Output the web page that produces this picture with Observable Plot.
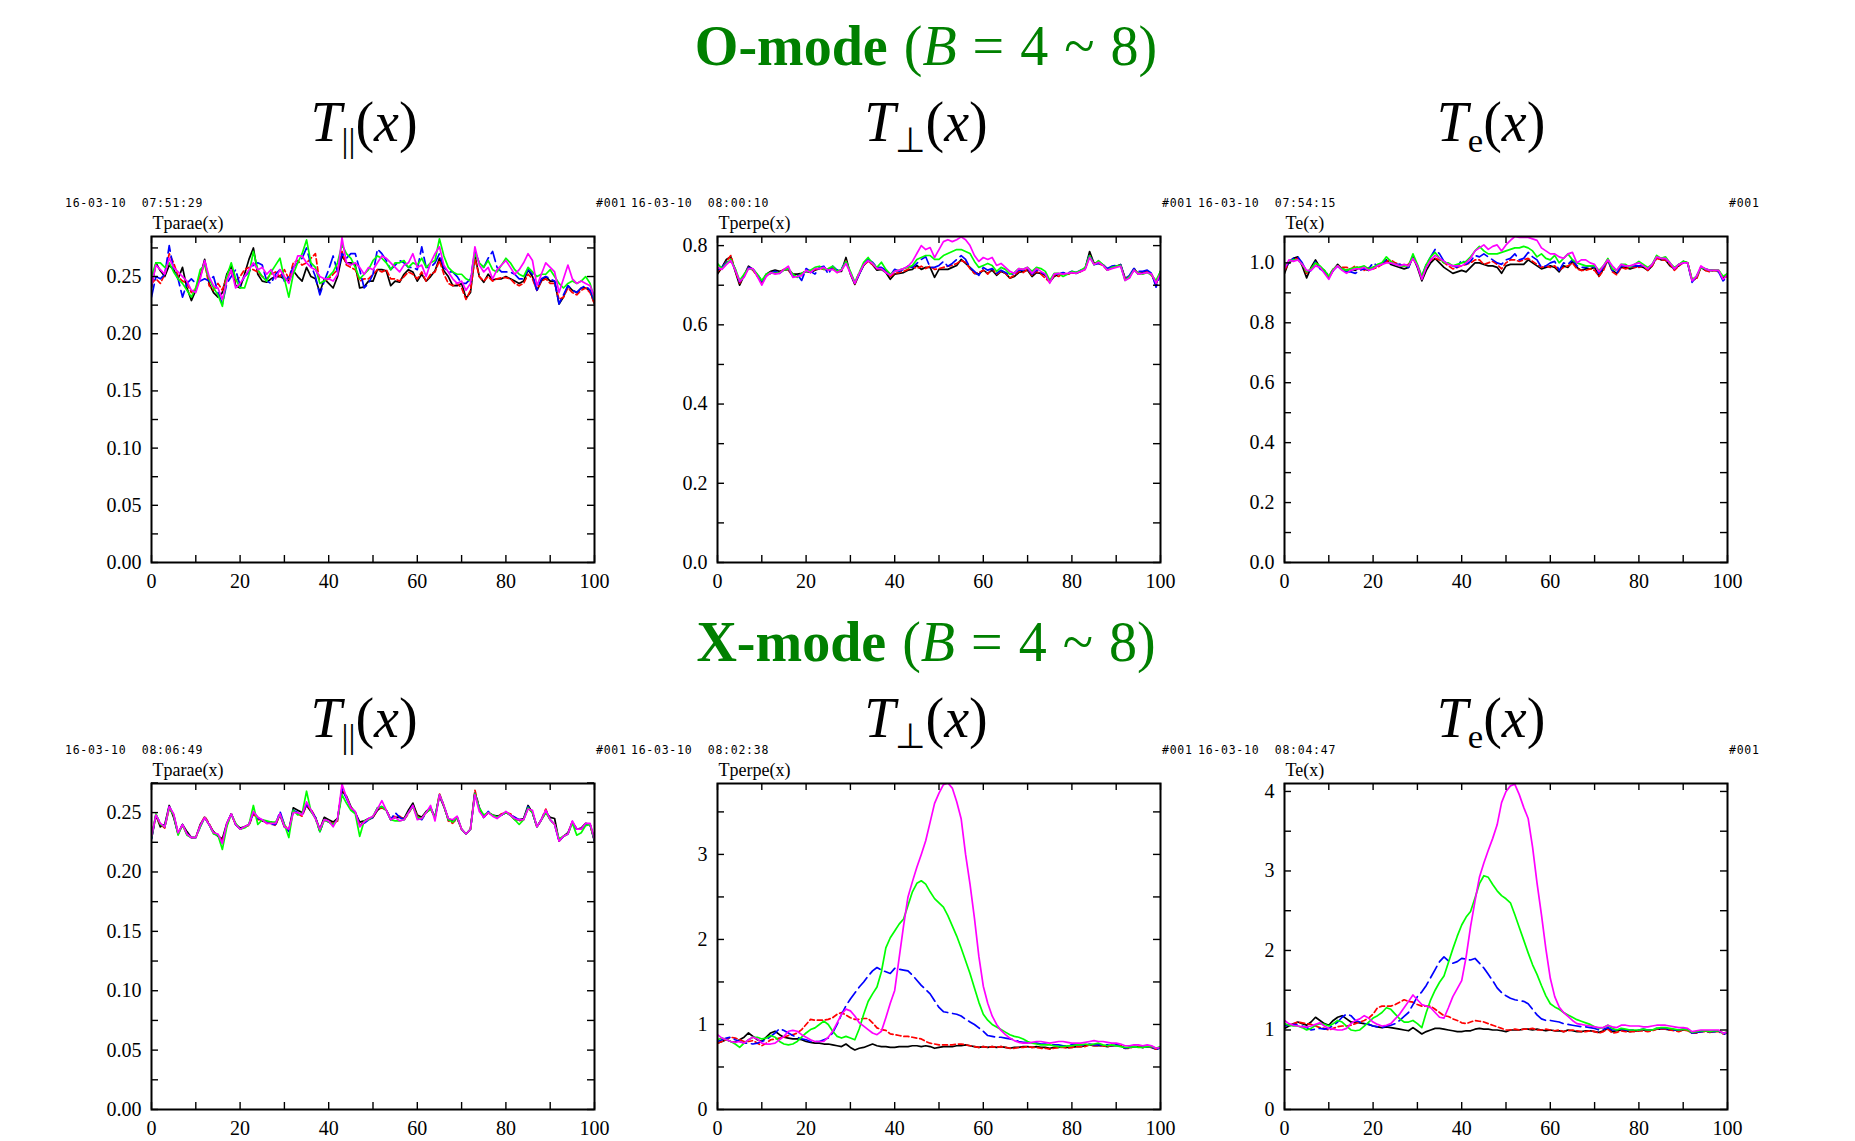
<!DOCTYPE html>
<html>
<head>
<meta charset="utf-8">
<script src="https://cdn.jsdelivr.net/npm/d3@7"></script>
<script src="https://cdn.jsdelivr.net/npm/@observablehq/plot@0.6"></script>
<style>
  html, body { margin: 0; padding: 0; background: #fff; }
  #page { position: relative; width: 1855px; height: 1141px; overflow: hidden;
          font-family: "Liberation Serif", "Times New Roman", serif; }
  .mode { position: absolute; left: 0; width: 1852px; text-align: center; color: #008000;
          font-size: 56px; line-height: 1; white-space: nowrap; word-spacing: 2px; }
  .sub { position: absolute; width: 300px; text-align: center; font-size: 56px;
         line-height: 1; color: #000; white-space: nowrap; }
  .sub .s { font-size: 0.62em; position: relative; top: 0.32em; }
  .stamp { position: absolute; font-family: "DejaVu Sans Mono", monospace; font-size: 11.5px;
           letter-spacing: 0.75px; line-height: 1; white-space: pre; color: #000; }
  .panel { position: absolute; }
</style>
</head>
<body>
<div id="page"></div>
<script>
// ---- x axis ticks (shared by all panels) ----
const xTickLabels = [0, 20, 40, 60, 80, 100];
const xTickMarks = [0, 10, 20, 30, 40, 50, 60, 70, 80, 90, 100];

// ---- line styles: one per run ----
const lineColors = ["#000000", "#ff0000", "#0000ff", "#00ff00", "#ff00ff"];
const lineDashes = [null, "5,3", "13,5", null, null];

// ---- O-mode, Tparae(x) ----
const oParBlack = [
  0.240,0.262,0.255,0.250,0.260,0.256,0.248,0.258,0.240,0.229,
  0.238,0.250,0.265,0.244,0.236,0.232,0.236,0.252,0.259,0.242,
  0.240,0.252,0.265,0.275,0.252,0.246,0.245,0.248,0.250,0.250,
  0.248,0.246,0.255,0.250,0.246,0.258,0.250,0.248,0.236,0.248,
  0.244,0.240,0.250,0.268,0.262,0.262,0.260,0.240,0.241,0.246,
  0.246,0.256,0.256,0.255,0.242,0.246,0.245,0.252,0.256,0.254,
  0.246,0.252,0.246,0.250,0.255,0.266,0.255,0.250,0.242,0.242,
  0.244,0.231,0.236,0.268,0.250,0.245,0.252,0.247,0.248,0.248,
  0.250,0.248,0.246,0.244,0.246,0.256,0.250,0.238,0.246,0.250,
  0.246,0.246,0.226,0.232,0.242,0.238,0.236,0.240,0.240,0.238,
  0.226];
const oParRed = [
  0.244,0.248,0.244,0.252,0.270,0.262,0.250,0.246,0.244,0.236,
  0.240,0.250,0.262,0.242,0.238,0.244,0.238,0.250,0.254,0.246,
  0.250,0.256,0.258,0.256,0.254,0.250,0.248,0.252,0.254,0.250,
  0.256,0.248,0.262,0.264,0.260,0.262,0.266,0.270,0.244,0.246,
  0.248,0.252,0.256,0.272,0.260,0.258,0.256,0.246,0.248,0.248,
  0.252,0.256,0.254,0.256,0.248,0.248,0.246,0.250,0.254,0.252,
  0.248,0.254,0.246,0.252,0.254,0.264,0.252,0.244,0.242,0.244,
  0.240,0.230,0.238,0.266,0.250,0.246,0.250,0.246,0.248,0.249,
  0.249,0.248,0.244,0.242,0.244,0.252,0.248,0.238,0.246,0.248,
  0.244,0.244,0.230,0.232,0.240,0.236,0.234,0.238,0.240,0.236,
  0.226];
const oParBlue = [
  0.232,0.250,0.248,0.252,0.277,0.256,0.248,0.232,0.244,0.248,
  0.244,0.246,0.248,0.246,0.250,0.236,0.226,0.244,0.250,0.256,
  0.242,0.250,0.254,0.260,0.262,0.260,0.246,0.244,0.252,0.256,
  0.246,0.250,0.258,0.262,0.266,0.275,0.260,0.250,0.234,0.246,
  0.256,0.268,0.254,0.270,0.266,0.270,0.270,0.256,0.240,0.244,
  0.252,0.274,0.270,0.264,0.256,0.260,0.264,0.262,0.258,0.258,
  0.256,0.276,0.258,0.258,0.262,0.270,0.258,0.254,0.254,0.250,
  0.244,0.244,0.248,0.272,0.262,0.258,0.266,0.272,0.258,0.254,
  0.254,0.254,0.252,0.248,0.248,0.256,0.252,0.238,0.248,0.250,
  0.248,0.246,0.226,0.234,0.242,0.238,0.236,0.240,0.242,0.238,
  0.228];
const oParGreen = [
  0.250,0.262,0.262,0.258,0.262,0.254,0.248,0.244,0.238,0.232,
  0.240,0.256,0.260,0.248,0.240,0.234,0.224,0.250,0.262,0.248,
  0.240,0.240,0.252,0.272,0.256,0.250,0.246,0.254,0.260,0.266,
  0.248,0.232,0.252,0.262,0.270,0.282,0.262,0.258,0.244,0.246,
  0.250,0.254,0.262,0.278,0.270,0.266,0.258,0.248,0.252,0.256,
  0.264,0.268,0.266,0.262,0.256,0.262,0.262,0.264,0.258,0.262,
  0.260,0.266,0.258,0.262,0.264,0.283,0.268,0.258,0.254,0.252,
  0.252,0.248,0.246,0.270,0.262,0.258,0.264,0.256,0.254,0.260,
  0.266,0.262,0.256,0.252,0.250,0.258,0.254,0.250,0.252,0.252,
  0.256,0.250,0.244,0.240,0.244,0.246,0.244,0.246,0.250,0.244,
  0.230];
const oParMagenta = [
  0.242,0.260,0.256,0.252,0.266,0.258,0.254,0.250,0.246,0.238,
  0.236,0.248,0.264,0.250,0.242,0.240,0.230,0.246,0.256,0.240,
  0.244,0.250,0.256,0.262,0.256,0.258,0.252,0.256,0.248,0.256,
  0.250,0.244,0.256,0.268,0.268,0.262,0.258,0.256,0.250,0.248,
  0.248,0.246,0.252,0.284,0.262,0.260,0.262,0.258,0.252,0.258,
  0.256,0.262,0.268,0.266,0.262,0.258,0.254,0.260,0.262,0.270,
  0.258,0.260,0.250,0.262,0.270,0.276,0.260,0.254,0.248,0.244,
  0.246,0.238,0.244,0.276,0.260,0.254,0.258,0.248,0.256,0.260,
  0.264,0.258,0.252,0.256,0.262,0.270,0.264,0.242,0.252,0.262,
  0.258,0.254,0.236,0.248,0.260,0.248,0.244,0.246,0.244,0.242,
  0.232];

// ---- O-mode, Tperpe(x) ----
const oPerpBlack = [
  0.728,0.745,0.765,0.772,0.735,0.700,0.725,0.748,0.740,0.725,
  0.708,0.728,0.735,0.738,0.735,0.738,0.740,0.728,0.728,0.730,
  0.735,0.732,0.738,0.742,0.745,0.738,0.742,0.735,0.735,0.770,
  0.728,0.702,0.728,0.750,0.762,0.752,0.738,0.740,0.732,0.715,
  0.728,0.730,0.732,0.738,0.740,0.750,0.740,0.745,0.745,0.720,
  0.740,0.740,0.740,0.745,0.750,0.765,0.755,0.745,0.730,0.728,
  0.738,0.730,0.738,0.725,0.735,0.730,0.718,0.722,0.732,0.735,
  0.738,0.722,0.732,0.730,0.725,0.708,0.722,0.728,0.730,0.728,
  0.732,0.730,0.735,0.742,0.785,0.755,0.758,0.752,0.740,0.745,
  0.748,0.752,0.718,0.720,0.742,0.728,0.732,0.735,0.728,0.702,
  0.735];
const oPerpRed = [
  0.735,0.742,0.760,0.775,0.738,0.705,0.722,0.745,0.738,0.722,
  0.708,0.725,0.730,0.732,0.732,0.740,0.738,0.722,0.722,0.725,
  0.738,0.735,0.740,0.742,0.740,0.740,0.745,0.732,0.738,0.762,
  0.730,0.704,0.732,0.752,0.760,0.752,0.742,0.742,0.735,0.722,
  0.730,0.732,0.735,0.740,0.748,0.742,0.748,0.742,0.748,0.740,
  0.742,0.745,0.748,0.750,0.755,0.762,0.758,0.742,0.730,0.732,
  0.738,0.728,0.742,0.728,0.735,0.730,0.718,0.725,0.735,0.732,
  0.740,0.725,0.735,0.728,0.718,0.708,0.725,0.722,0.730,0.728,
  0.730,0.732,0.735,0.740,0.775,0.755,0.755,0.750,0.738,0.745,
  0.748,0.750,0.718,0.722,0.738,0.730,0.730,0.735,0.725,0.705,
  0.732];
const oPerpBlue = [
  0.738,0.745,0.758,0.765,0.740,0.708,0.722,0.745,0.740,0.728,
  0.710,0.725,0.730,0.735,0.730,0.738,0.742,0.722,0.728,0.712,
  0.742,0.735,0.728,0.745,0.748,0.728,0.748,0.738,0.742,0.760,
  0.732,0.705,0.728,0.752,0.765,0.758,0.745,0.745,0.738,0.725,
  0.740,0.735,0.740,0.748,0.745,0.755,0.765,0.772,0.745,0.745,
  0.750,0.760,0.748,0.755,0.765,0.775,0.765,0.745,0.735,0.725,
  0.745,0.738,0.742,0.730,0.738,0.732,0.725,0.730,0.738,0.738,
  0.742,0.728,0.738,0.732,0.728,0.710,0.728,0.728,0.732,0.730,
  0.735,0.732,0.738,0.742,0.778,0.752,0.755,0.752,0.742,0.748,
  0.750,0.752,0.715,0.725,0.742,0.735,0.735,0.738,0.730,0.695,
  0.728];
const oPerpGreen = [
  0.755,0.742,0.755,0.765,0.742,0.712,0.728,0.742,0.740,0.728,
  0.712,0.728,0.732,0.730,0.732,0.738,0.742,0.728,0.720,0.730,
  0.735,0.738,0.745,0.748,0.740,0.742,0.748,0.735,0.740,0.760,
  0.735,0.708,0.732,0.758,0.770,0.755,0.745,0.758,0.740,0.728,
  0.735,0.738,0.742,0.745,0.750,0.765,0.770,0.775,0.775,0.765,
  0.765,0.775,0.780,0.785,0.790,0.790,0.785,0.780,0.760,0.745,
  0.750,0.755,0.750,0.735,0.745,0.740,0.728,0.732,0.742,0.740,
  0.745,0.735,0.745,0.742,0.735,0.712,0.730,0.730,0.722,0.728,
  0.735,0.732,0.738,0.745,0.775,0.752,0.762,0.752,0.738,0.745,
  0.748,0.750,0.712,0.722,0.738,0.730,0.728,0.732,0.725,0.712,
  0.735];
const oPerpMagenta = [
  0.745,0.740,0.752,0.762,0.738,0.710,0.720,0.742,0.742,0.722,
  0.700,0.722,0.732,0.728,0.730,0.740,0.748,0.720,0.722,0.725,
  0.738,0.732,0.742,0.742,0.745,0.738,0.740,0.732,0.738,0.755,
  0.730,0.705,0.730,0.752,0.762,0.755,0.742,0.742,0.732,0.725,
  0.735,0.738,0.742,0.748,0.760,0.780,0.800,0.790,0.795,0.770,
  0.790,0.810,0.815,0.810,0.815,0.822,0.815,0.800,0.775,0.760,
  0.770,0.765,0.770,0.750,0.755,0.745,0.735,0.730,0.742,0.740,
  0.745,0.730,0.742,0.735,0.728,0.705,0.728,0.730,0.728,0.730,
  0.732,0.730,0.735,0.740,0.770,0.752,0.758,0.750,0.738,0.742,
  0.745,0.748,0.712,0.718,0.738,0.728,0.730,0.732,0.728,0.705,
  0.730];

// ---- O-mode, Te(x) ----
const oTeBlack = [
  0.965,1.005,1.015,1.020,0.990,0.950,0.985,1.010,0.985,0.975,
  0.950,0.975,0.995,0.980,0.975,0.980,0.975,0.985,0.980,0.975,
  0.985,0.990,0.995,1.010,0.995,0.990,0.985,0.980,0.985,1.020,
  0.985,0.940,0.975,1.000,1.015,1.000,0.985,0.975,0.965,0.970,
  0.975,0.970,0.985,1.000,1.000,0.995,0.990,0.990,0.985,0.965,
  0.990,0.995,0.995,0.995,0.995,1.010,1.000,0.990,0.980,0.985,
  0.990,0.985,0.970,0.990,0.985,1.005,0.985,0.975,0.980,0.980,
  0.985,0.955,0.980,1.010,0.975,0.965,0.985,0.985,0.980,0.985,
  0.990,0.985,0.975,0.990,1.020,1.010,1.010,0.990,0.980,0.990,
  1.005,1.000,0.940,0.950,0.985,0.975,0.975,0.975,0.975,0.950,
  0.960];
const oTeRed = [
  0.975,1.000,1.010,1.015,0.995,0.965,0.980,1.000,0.985,0.970,
  0.955,0.980,0.990,0.985,0.985,0.980,0.990,0.980,0.975,0.985,
  0.980,0.985,0.995,1.005,1.010,1.000,0.995,0.990,0.995,1.015,
  0.990,0.950,0.990,1.010,1.015,1.010,1.000,0.990,0.980,0.985,
  0.990,0.995,1.000,1.010,1.010,0.995,1.000,1.005,0.995,0.980,
  1.000,1.010,1.010,1.005,1.010,1.015,1.005,0.995,0.985,0.990,
  0.985,0.990,0.975,0.985,0.990,1.000,0.980,0.975,0.975,0.980,
  0.975,0.955,0.975,1.010,0.970,0.960,0.985,0.980,0.985,0.985,
  0.985,0.990,0.975,0.990,1.015,1.010,1.010,0.995,0.975,0.990,
  1.000,1.000,0.945,0.945,0.985,0.975,0.970,0.975,0.970,0.950,
  0.955];
const oTeBlue = [
  0.985,1.000,1.015,1.020,1.000,0.970,0.975,1.005,0.980,0.970,
  0.960,0.975,0.990,0.975,0.970,0.970,0.965,0.975,0.980,0.980,
  1.000,0.990,1.000,1.010,1.000,0.995,0.995,0.990,0.985,1.025,
  0.990,0.955,0.995,1.020,1.045,1.030,1.005,0.995,0.990,0.985,
  1.010,0.995,1.005,1.025,1.020,1.030,1.020,1.010,1.000,0.995,
  1.010,1.015,1.030,1.010,1.015,1.035,1.020,1.010,0.985,0.990,
  1.000,1.005,0.975,1.000,0.995,1.010,0.990,0.985,0.985,0.990,
  0.985,0.965,0.985,1.010,0.975,0.965,0.990,0.990,0.985,0.990,
  0.990,0.990,0.980,0.995,1.020,1.015,1.015,1.000,0.980,0.995,
  1.000,1.000,0.935,0.955,0.985,0.980,0.975,0.975,0.970,0.940,
  0.955];
const oTeGreen = [
  0.990,1.005,1.010,1.010,0.995,0.970,0.980,1.000,0.990,0.975,
  0.955,0.980,0.990,0.980,0.975,0.980,0.985,0.985,0.990,0.980,
  0.985,0.995,1.000,1.020,1.005,0.995,0.990,0.990,0.990,1.030,
  0.995,0.955,0.995,1.020,1.035,1.015,1.000,1.000,0.990,0.995,
  1.000,1.005,1.020,1.040,1.055,1.040,1.030,1.030,1.030,1.035,
  1.040,1.045,1.050,1.050,1.055,1.050,1.040,1.020,1.030,1.015,
  1.010,1.025,1.000,1.015,1.030,1.010,1.000,0.995,0.990,0.990,
  0.990,0.975,0.990,1.015,0.980,0.975,0.995,0.995,0.985,0.995,
  1.005,0.995,0.985,0.995,1.025,1.015,1.020,1.000,0.985,0.995,
  1.005,1.000,0.945,0.955,0.985,0.980,0.975,0.975,0.975,0.955,
  0.965];
const oTeMagenta = [
  0.980,1.010,1.005,1.010,0.995,0.975,0.975,0.990,0.985,0.965,
  0.945,0.975,0.990,0.975,0.965,0.975,0.980,0.980,0.985,0.975,
  0.980,0.990,0.995,1.000,1.000,0.995,0.990,0.995,0.990,1.015,
  0.990,0.945,0.985,1.010,1.025,1.015,1.005,0.995,0.990,0.990,
  0.990,1.000,1.015,1.040,1.050,1.060,1.045,1.055,1.060,1.040,
  1.060,1.075,1.088,1.085,1.085,1.085,1.080,1.075,1.050,1.040,
  1.030,1.030,1.020,1.015,1.030,1.035,1.000,1.010,1.010,1.000,
  0.995,0.970,0.990,1.010,0.990,0.975,0.995,0.990,0.990,0.995,
  1.000,0.990,0.980,0.995,1.020,1.015,1.015,1.000,0.980,0.995,
  1.000,1.000,0.940,0.955,0.990,0.980,0.975,0.975,0.975,0.945,
  0.960];

// ---- X-mode, Tparae(x) ----
const xParBlack = [
  0.228,0.248,0.238,0.240,0.256,0.246,0.232,0.240,0.234,0.229,
  0.229,0.240,0.246,0.240,0.234,0.230,0.228,0.241,0.249,0.240,
  0.237,0.238,0.240,0.250,0.246,0.243,0.242,0.242,0.240,0.248,
  0.238,0.235,0.254,0.252,0.250,0.256,0.251,0.246,0.236,0.246,
  0.244,0.242,0.245,0.268,0.264,0.255,0.250,0.242,0.243,0.245,
  0.246,0.252,0.255,0.252,0.244,0.246,0.246,0.245,0.252,0.258,
  0.248,0.246,0.251,0.254,0.246,0.264,0.255,0.245,0.243,0.246,
  0.236,0.232,0.236,0.266,0.254,0.246,0.250,0.248,0.247,0.248,
  0.250,0.248,0.244,0.244,0.245,0.256,0.250,0.238,0.244,0.250,
  0.246,0.245,0.226,0.230,0.233,0.242,0.236,0.237,0.241,0.240,
  0.226];
const xParRed = [
  0.230,0.247,0.240,0.237,0.254,0.248,0.233,0.239,0.232,0.229,
  0.229,0.239,0.247,0.241,0.233,0.231,0.226,0.239,0.249,0.240,
  0.236,0.238,0.239,0.249,0.244,0.244,0.241,0.241,0.239,0.249,
  0.240,0.234,0.251,0.249,0.247,0.256,0.253,0.246,0.234,0.244,
  0.242,0.241,0.243,0.271,0.263,0.254,0.250,0.240,0.242,0.244,
  0.246,0.253,0.254,0.252,0.245,0.247,0.247,0.244,0.249,0.256,
  0.247,0.245,0.250,0.253,0.246,0.266,0.256,0.243,0.241,0.245,
  0.236,0.232,0.236,0.269,0.254,0.246,0.250,0.248,0.246,0.249,
  0.250,0.249,0.246,0.243,0.244,0.254,0.250,0.238,0.244,0.253,
  0.244,0.240,0.227,0.230,0.232,0.242,0.236,0.236,0.240,0.240,
  0.226];
const xParBlue = [
  0.228,0.248,0.241,0.238,0.255,0.248,0.232,0.240,0.232,0.229,
  0.229,0.238,0.246,0.240,0.232,0.231,0.224,0.240,0.249,0.240,
  0.236,0.238,0.240,0.250,0.245,0.244,0.242,0.240,0.240,0.251,
  0.240,0.234,0.252,0.250,0.248,0.257,0.252,0.246,0.234,0.244,
  0.242,0.240,0.244,0.270,0.262,0.254,0.250,0.240,0.241,0.244,
  0.246,0.254,0.255,0.252,0.244,0.250,0.246,0.244,0.250,0.256,
  0.246,0.244,0.250,0.254,0.246,0.265,0.256,0.244,0.242,0.246,
  0.236,0.232,0.236,0.267,0.254,0.246,0.251,0.248,0.246,0.248,
  0.250,0.248,0.246,0.244,0.244,0.255,0.250,0.238,0.244,0.252,
  0.244,0.240,0.226,0.230,0.232,0.242,0.236,0.236,0.240,0.240,
  0.226];
const xParGreen = [
  0.229,0.249,0.240,0.238,0.254,0.248,0.231,0.240,0.231,0.229,
  0.229,0.238,0.246,0.240,0.232,0.231,0.219,0.238,0.249,0.241,
  0.236,0.237,0.240,0.256,0.240,0.244,0.243,0.242,0.242,0.248,
  0.240,0.229,0.252,0.248,0.249,0.268,0.251,0.245,0.234,0.244,
  0.242,0.240,0.244,0.265,0.258,0.252,0.249,0.230,0.243,0.244,
  0.247,0.254,0.255,0.252,0.244,0.243,0.243,0.244,0.250,0.255,
  0.246,0.245,0.250,0.253,0.246,0.265,0.256,0.244,0.242,0.246,
  0.236,0.232,0.236,0.266,0.254,0.248,0.250,0.248,0.246,0.248,
  0.250,0.248,0.244,0.240,0.244,0.254,0.250,0.238,0.244,0.250,
  0.244,0.240,0.228,0.230,0.232,0.241,0.231,0.233,0.239,0.240,
  0.227];
const xParMagenta = [
  0.230,0.248,0.241,0.238,0.255,0.249,0.233,0.240,0.232,0.229,
  0.229,0.239,0.246,0.240,0.233,0.232,0.224,0.241,0.249,0.240,
  0.236,0.238,0.240,0.251,0.246,0.244,0.241,0.241,0.241,0.249,
  0.238,0.236,0.250,0.250,0.248,0.259,0.252,0.245,0.236,0.244,
  0.243,0.238,0.245,0.274,0.263,0.254,0.251,0.238,0.242,0.245,
  0.247,0.253,0.260,0.252,0.244,0.246,0.243,0.244,0.250,0.256,
  0.244,0.245,0.250,0.256,0.243,0.265,0.256,0.245,0.244,0.247,
  0.236,0.232,0.236,0.265,0.251,0.246,0.250,0.247,0.245,0.248,
  0.251,0.248,0.245,0.244,0.244,0.253,0.252,0.238,0.244,0.252,
  0.244,0.240,0.226,0.230,0.232,0.243,0.236,0.236,0.241,0.241,
  0.228];

// ---- X-mode, Tperpe(x) ----
const xPerpBlack = [
  0.78,0.80,0.82,0.80,0.79,0.82,0.85,0.90,0.86,0.82,
  0.80,0.85,0.90,0.92,0.88,0.85,0.84,0.83,0.83,0.82,
  0.80,0.79,0.78,0.78,0.77,0.77,0.76,0.75,0.74,0.77,
  0.73,0.70,0.72,0.73,0.75,0.77,0.75,0.74,0.74,0.73,
  0.73,0.74,0.74,0.74,0.75,0.75,0.74,0.75,0.74,0.72,
  0.73,0.74,0.74,0.74,0.75,0.75,0.76,0.75,0.74,0.73,
  0.74,0.73,0.74,0.73,0.74,0.73,0.72,0.73,0.73,0.74,
  0.74,0.73,0.74,0.73,0.73,0.72,0.73,0.73,0.74,0.73,
  0.73,0.74,0.74,0.75,0.76,0.75,0.75,0.75,0.74,0.75,
  0.75,0.75,0.72,0.73,0.74,0.74,0.73,0.74,0.73,0.71,
  0.73];
const xPerpRed = [
  0.78,0.80,0.82,0.85,0.84,0.82,0.80,0.80,0.81,0.78,
  0.75,0.78,0.82,0.83,0.84,0.85,0.87,0.88,0.90,0.94,
  1.00,1.06,1.05,1.05,1.05,1.06,1.08,1.12,1.14,1.11,
  1.08,1.06,1.06,1.07,1.07,1.02,0.96,0.94,0.93,0.89,
  0.88,0.87,0.86,0.86,0.85,0.84,0.83,0.80,0.78,0.77,
  0.76,0.76,0.76,0.76,0.77,0.77,0.76,0.75,0.74,0.73,
  0.74,0.73,0.74,0.73,0.74,0.73,0.72,0.72,0.73,0.73,
  0.74,0.73,0.73,0.72,0.72,0.71,0.72,0.73,0.73,0.72,
  0.73,0.74,0.74,0.74,0.76,0.75,0.75,0.75,0.74,0.75,
  0.76,0.75,0.72,0.72,0.74,0.74,0.73,0.74,0.73,0.71,
  0.73];
const xPerpBlue = [
  0.80,0.82,0.84,0.85,0.82,0.80,0.78,0.78,0.77,0.78,
  0.80,0.82,0.86,0.90,0.95,0.93,0.90,0.87,0.85,0.83,
  0.82,0.80,0.80,0.80,0.82,0.84,0.90,1.00,1.12,1.22,
  1.30,1.37,1.44,1.50,1.57,1.63,1.67,1.64,1.62,1.60,
  1.66,1.65,1.64,1.63,1.58,1.52,1.46,1.41,1.36,1.28,
  1.20,1.15,1.14,1.13,1.12,1.10,1.06,1.03,1.00,0.96,
  0.92,0.87,0.86,0.85,0.85,0.84,0.83,0.82,0.80,0.79,
  0.79,0.78,0.78,0.77,0.77,0.76,0.76,0.76,0.75,0.75,
  0.76,0.76,0.76,0.76,0.77,0.76,0.76,0.76,0.76,0.75,
  0.76,0.75,0.72,0.73,0.74,0.74,0.73,0.74,0.74,0.70,
  0.73];
const xPerpGreen = [
  0.82,0.84,0.82,0.80,0.77,0.73,0.78,0.82,0.85,0.85,
  0.83,0.84,0.87,0.85,0.80,0.77,0.76,0.77,0.80,0.85,
  0.90,0.94,0.96,1.00,1.04,1.00,0.92,0.86,0.84,0.86,
  0.84,0.82,0.95,1.12,1.27,1.36,1.44,1.62,1.90,2.02,
  2.10,2.18,2.24,2.40,2.56,2.66,2.69,2.65,2.56,2.48,
  2.43,2.38,2.28,2.16,2.04,1.90,1.75,1.60,1.43,1.26,
  1.12,1.05,1.00,0.97,0.94,0.91,0.88,0.86,0.85,0.83,
  0.80,0.78,0.77,0.76,0.76,0.76,0.75,0.74,0.74,0.75,
  0.75,0.76,0.76,0.77,0.76,0.77,0.78,0.76,0.75,0.76,
  0.75,0.74,0.73,0.73,0.74,0.73,0.73,0.74,0.74,0.72,
  0.74];
const xPerpMagenta = [
  0.88,0.84,0.82,0.80,0.79,0.80,0.78,0.82,0.85,0.83,
  0.78,0.77,0.77,0.78,0.82,0.86,0.92,0.93,0.92,0.88,
  0.85,0.82,0.80,0.80,0.80,0.85,0.92,1.02,1.12,1.18,
  1.16,1.10,1.02,0.98,0.94,0.90,0.88,0.92,1.08,1.25,
  1.40,1.78,2.16,2.50,2.68,2.85,3.00,3.16,3.38,3.60,
  3.72,3.82,3.84,3.78,3.62,3.42,3.00,2.65,2.25,1.80,
  1.45,1.25,1.10,1.00,0.93,0.88,0.84,0.81,0.79,0.78,
  0.78,0.79,0.80,0.80,0.79,0.78,0.79,0.80,0.80,0.79,
  0.78,0.78,0.78,0.79,0.80,0.81,0.80,0.80,0.79,0.78,
  0.78,0.77,0.75,0.75,0.76,0.76,0.75,0.76,0.75,0.72,
  0.73];

// ---- X-mode, Te(x) ----
const xTeBlack = [
  1.02,1.05,1.07,1.10,1.08,1.06,1.10,1.16,1.12,1.08,
  1.06,1.12,1.16,1.18,1.14,1.10,1.10,1.09,1.08,1.07,
  1.05,1.04,1.03,1.04,1.03,1.02,1.01,1.00,0.99,1.03,
  0.99,0.95,0.98,1.00,1.02,1.02,1.01,1.00,0.99,0.98,
  0.98,0.99,0.99,1.01,1.02,1.01,1.01,1.00,1.00,0.99,
  0.98,1.00,1.00,1.00,1.01,1.01,1.00,1.01,1.00,0.99,
  1.00,0.99,0.99,0.98,1.00,0.99,0.98,0.98,0.99,0.99,
  0.98,0.97,0.99,1.02,0.98,0.99,1.00,0.99,0.98,0.99,
  0.99,1.00,0.99,1.00,1.01,1.01,1.01,1.00,1.00,0.99,
  1.00,1.00,0.96,0.97,0.98,0.99,0.98,0.98,0.99,0.96,
  0.97];
const xTeRed = [
  1.05,1.07,1.08,1.10,1.09,1.08,1.07,1.05,1.03,1.02,
  1.00,1.02,1.04,1.05,1.05,1.06,1.08,1.10,1.12,1.15,
  1.20,1.28,1.30,1.30,1.30,1.32,1.35,1.38,1.36,1.35,
  1.32,1.30,1.30,1.30,1.26,1.22,1.18,1.17,1.14,1.12,
  1.09,1.08,1.10,1.12,1.11,1.10,1.08,1.06,1.04,1.02,
  1.00,1.00,1.01,1.00,1.01,1.01,1.02,1.00,1.00,1.01,
  1.00,0.99,1.00,0.98,0.99,1.00,0.99,0.98,0.98,0.99,
  0.98,0.96,0.98,1.01,0.96,0.97,0.99,0.98,0.98,0.98,
  0.99,0.99,0.98,0.99,1.01,1.01,1.01,1.00,0.99,0.98,
  1.00,0.99,0.96,0.96,0.98,0.98,0.97,0.98,0.98,0.95,
  0.96];
const xTeBlue = [
  1.05,1.06,1.07,1.06,1.05,1.03,1.00,1.01,1.02,1.01,
  1.02,1.06,1.10,1.16,1.20,1.18,1.12,1.10,1.08,1.07,
  1.05,1.04,1.03,1.05,1.06,1.08,1.12,1.17,1.22,1.32,
  1.42,1.48,1.56,1.66,1.76,1.86,1.92,1.87,1.84,1.86,
  1.90,1.89,1.88,1.90,1.84,1.78,1.70,1.62,1.53,1.47,
  1.43,1.40,1.38,1.37,1.36,1.33,1.26,1.19,1.14,1.12,
  1.12,1.11,1.10,1.08,1.07,1.06,1.05,1.04,1.04,1.03,
  1.02,1.00,1.01,1.03,1.00,1.00,1.01,1.00,1.00,1.00,
  1.00,1.01,1.00,1.00,1.02,1.02,1.02,1.01,1.00,1.00,
  1.01,1.01,0.96,0.97,0.98,0.98,0.98,0.98,0.99,0.94,
  0.97];
const xTeGreen = [
  1.08,1.06,1.05,1.05,1.03,1.00,1.02,1.06,1.08,1.07,
  1.05,1.08,1.12,1.10,1.05,1.00,0.99,1.00,1.05,1.10,
  1.15,1.18,1.22,1.28,1.26,1.20,1.14,1.10,1.10,1.12,
  1.08,1.03,1.22,1.38,1.50,1.60,1.68,1.85,2.02,2.18,
  2.32,2.42,2.49,2.66,2.84,2.94,2.92,2.83,2.75,2.69,
  2.65,2.60,2.45,2.29,2.13,1.97,1.82,1.70,1.56,1.43,
  1.33,1.29,1.26,1.22,1.19,1.16,1.13,1.11,1.09,1.07,
  1.04,1.02,1.03,1.06,1.02,1.00,1.02,1.01,1.00,1.00,
  1.00,1.01,1.00,1.00,1.02,1.03,1.03,1.02,1.01,1.00,
  1.01,1.00,0.97,0.98,0.99,0.99,0.98,0.99,0.99,0.96,
  0.97];
const xTeMagenta = [
  1.12,1.08,1.06,1.05,1.04,1.04,1.05,1.07,1.09,1.05,
  1.02,1.01,1.00,1.00,1.02,1.08,1.12,1.14,1.18,1.15,
  1.10,1.07,1.05,1.06,1.08,1.14,1.20,1.28,1.36,1.44,
  1.38,1.32,1.30,1.28,1.22,1.16,1.15,1.28,1.42,1.52,
  1.62,1.92,2.30,2.62,2.92,3.10,3.26,3.41,3.58,3.86,
  4.00,4.07,4.09,3.96,3.80,3.66,3.30,2.85,2.45,2.02,
  1.65,1.42,1.29,1.22,1.17,1.12,1.08,1.07,1.06,1.05,
  1.04,1.03,1.03,1.06,1.04,1.03,1.06,1.06,1.05,1.05,
  1.05,1.04,1.04,1.05,1.06,1.06,1.06,1.05,1.04,1.03,
  1.03,1.02,0.98,0.99,1.00,1.00,1.00,1.00,1.00,0.96,
  0.97];

// ---- y axis ticks per quantity ----
const parTickLabels = [0, 0.05, 0.10, 0.15, 0.20, 0.25];
const parTickMarks = [0, 0.025, 0.05, 0.075, 0.10, 0.125, 0.15, 0.175, 0.20, 0.225, 0.25, 0.275];
const oPerpTickLabels = [0, 0.2, 0.4, 0.6, 0.8];
const oPerpTickMarks = [0, 0.1, 0.2, 0.3, 0.4, 0.5, 0.6, 0.7, 0.8];
const oTeTickLabels = [0, 0.2, 0.4, 0.6, 0.8, 1.0];
const oTeTickMarks = [0, 0.1, 0.2, 0.3, 0.4, 0.5, 0.6, 0.7, 0.8, 0.9, 1.0];
const xPerpTickLabels = [0, 1, 2, 3];
const xPerpTickMarks = [0, 0.5, 1, 1.5, 2, 2.5, 3, 3.5];
const xTeTickLabels = [0, 1, 2, 3, 4];
const xTeTickMarks = [0, 0.5, 1, 1.5, 2, 2.5, 3, 3.5, 4];

// ---- run stamps and panel names ----
const oStamps = ["16-03-10  07:51:29", "16-03-10  08:00:10", "16-03-10  07:54:15"];
const xStamps = ["16-03-10  08:06:49", "16-03-10  08:02:38", "16-03-10  08:04:47"];
const runTag = "#001";
const panelNames = ["Tparae(x)", "Tperpe(x)", "Te(x)"];

// ---- layout ----
const FRAME_W = 443, FRAME_H = 326;
const M = {left: 90, right: 50, top: 45, bottom: 35};
const colLeft = [151, 717, 1284];
const rowTop = [236, 783];
const subCenter = [364, 926, 1491];

const page = document.getElementById("page");

function addHtml(cls, top, left, html) {
  const d = document.createElement("div");
  d.className = cls;
  d.style.top = top + "px";
  if (left != null) d.style.left = left + "px";
  d.innerHTML = html;
  page.appendChild(d);
  return d;
}

const subTitles = [
  '<i>T</i><span class="s">||</span>(<i>x</i>)',
  '<i>T</i><span class="s">\u22a5</span>(<i>x</i>)',
  '<i>T</i><span class="s">e</span>(<i>x</i>)'
];

function panel(p) {
  const marks = [];
  p.series.forEach((vals, k) => {
    marks.push(Plot.line(vals, {
      x: (d, i) => i, y: d => d,
      stroke: lineColors[k], strokeWidth: 1.7,
      strokeDasharray: lineDashes[k], clip: true
    }));
  });
  // inward ticks on all four sides of the box
  const tk = {stroke: "#000", strokeWidth: 1.4};
  marks.push(Plot.tickX(xTickMarks, {x: d => d, insetTop: FRAME_H - 7, ...tk}));
  marks.push(Plot.tickX(xTickMarks, {x: d => d, insetBottom: FRAME_H - 7, ...tk}));
  marks.push(Plot.tickY(p.yMarks, {y: d => d, insetRight: FRAME_W - 7, ...tk}));
  marks.push(Plot.tickY(p.yMarks, {y: d => d, insetLeft: FRAME_W - 7, ...tk}));
  marks.push(Plot.frame({stroke: "#000", strokeWidth: 2}));
  marks.push(Plot.text([p.name], {
    text: d => d, frameAnchor: "top-left", dx: 1, dy: -8,
    textAnchor: "start", lineAnchor: "bottom",
    fontFamily: "Liberation Serif", fontSize: 18, fill: "#000"
  }));
  return Plot.plot({
    width: FRAME_W + M.left + M.right,
    height: FRAME_H + M.top + M.bottom,
    marginLeft: M.left, marginRight: M.right, marginTop: M.top, marginBottom: M.bottom,
    style: {fontFamily: "'Liberation Serif', 'Times New Roman', serif", fontSize: "20px", color: "#000", background: "transparent", overflow: "visible"},
    x: {domain: [0, 100], ticks: xTickLabels, tickSize: 0, tickPadding: 11, label: null},
    y: {domain: [0, p.yMax], ticks: p.yLabels, tickSize: 0, tickPadding: 10, tickFormat: p.fmt, label: null},
    marks
  });
}

const panels = [
  {row: 0, col: 0, series: [oParBlack, oParRed, oParBlue, oParGreen, oParMagenta], yMax: 0.285, yLabels: parTickLabels, yMarks: parTickMarks, fmt: d3.format(".2f")},
  {row: 0, col: 1, series: [oPerpBlack, oPerpRed, oPerpBlue, oPerpGreen, oPerpMagenta], yMax: 0.823, yLabels: oPerpTickLabels, yMarks: oPerpTickMarks, fmt: d3.format(".1f")},
  {row: 0, col: 2, series: [oTeBlack, oTeRed, oTeBlue, oTeGreen, oTeMagenta], yMax: 1.088, yLabels: oTeTickLabels, yMarks: oTeTickMarks, fmt: d3.format(".1f")},
  {row: 1, col: 0, series: [xParBlack, xParRed, xParBlue, xParGreen, xParMagenta], yMax: 0.2745, yLabels: parTickLabels, yMarks: parTickMarks, fmt: d3.format(".2f")},
  {row: 1, col: 1, series: [xPerpBlack, xPerpRed, xPerpBlue, xPerpGreen, xPerpMagenta], yMax: 3.834, yLabels: xPerpTickLabels, yMarks: xPerpTickMarks, fmt: d3.format("d")},
  {row: 1, col: 2, series: [xTeBlack, xTeRed, xTeBlue, xTeGreen, xTeMagenta], yMax: 4.1, yLabels: xTeTickLabels, yMarks: xTeTickMarks, fmt: d3.format("d")}
];

// mode headings and per-column subtitles
addHtml("mode", 18, null, '<b>O-mode</b> (<i>B</i> = 4 ~ 8)');
addHtml("mode", 614, null, '<b>X-mode</b> (<i>B</i> = 4 ~ 8)');
[94, 690].forEach(top => {
  subTitles.forEach((html, c) => addHtml("sub", top, subCenter[c] - 150, html));
});

panels.forEach(p => {
  const stamp = (p.row === 0 ? oStamps : xStamps)[p.col];
  p.name = panelNames[p.col];
  // run stamp line above each box
  const stampTop = rowTop[p.row] - 29 - 9;
  addHtml("stamp", stampTop, colLeft[p.col] - 86, "").textContent = stamp;
  addHtml("stamp", stampTop, colLeft[p.col] + FRAME_W + 2, "").textContent = runTag;
  const wrap = document.createElement("div");
  wrap.className = "panel";
  wrap.style.left = (colLeft[p.col] - M.left) + "px";
  wrap.style.top = (rowTop[p.row] - M.top) + "px";
  wrap.appendChild(panel(p));
  page.appendChild(wrap);
});
</script>
</body>
</html>
